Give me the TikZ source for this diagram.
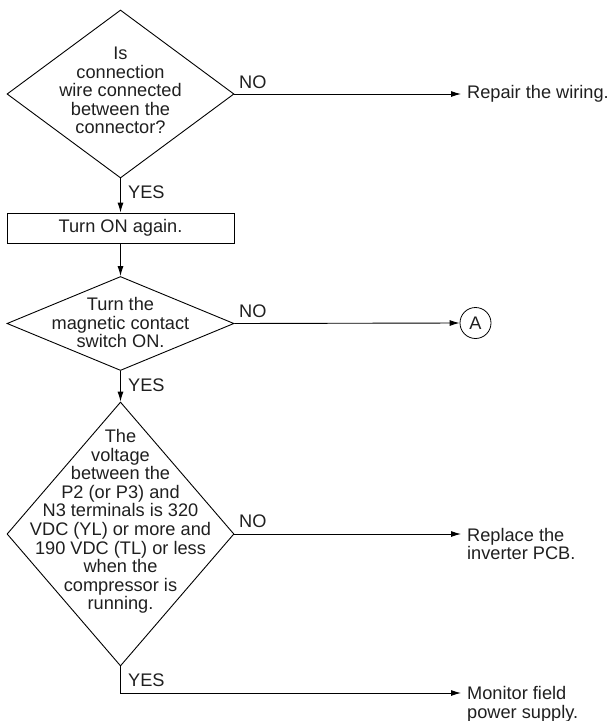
\documentclass[tikz,border=0pt]{standalone}
\usepackage{fontspec}
\setmainfont{Liberation Sans}
\usetikzlibrary{shapes.geometric,arrows.meta}
\begin{document}
\begin{tikzpicture}[x=1pt,y=-1pt,
  every node/.style={font=\fontsize{18.2}{18.6}\selectfont, text=black!88},
  line/.style={draw=black, line width=0.9pt},
  arr/.style={line, -{Latex[length=10pt,width=6pt]}},
  decision/.style={diamond, draw=black, line width=0.9pt, inner sep=0pt, minimum width=227pt},
  procbox/.style={rectangle, draw=black, line width=0.9pt, minimum width=227pt, minimum height=30pt, inner sep=0pt},
  dtext/.style={align=center, inner sep=0pt},
  rtext/.style={align=left, anchor=west, inner xsep=6pt, inner ysep=0pt},
  lbl/.style={inner sep=0pt, anchor=base west},
  conn/.style={circle, draw=black, line width=0.8pt, minimum size=31pt, inner sep=0pt}
]
\useasboundingbox (0,0) rectangle (612,721);

% decisions and box
\node[decision, minimum height=168pt] (d1) at (120.5,94) {};
\node[dtext] (t1) at (120.5,90.5) {Is\\connection\\wire connected\\between the\\connector?};
\node[procbox] (b1) at (120.5,228) {Turn ON again.};
\node[decision, minimum height=94pt] (d2) at (120.5,323.5) {};
\node[dtext] (t2) at (120.5,322.5) {Turn the\\magnetic contact\\switch ON.};
\node[decision, minimum height=264pt] (d3) at (120.5,534) {};
\node[dtext] (t3) at (120.5,521.5) {The\\voltage\\between the\\P2 (or P3) and\\N3 terminals is 320\\VDC (YL) or more and\\190 VDC (TL) or less\\when the\\compressor is\\running.};

% results
\node[rtext] (r1) at (461,94) {Repair the wiring.};
\node[conn] (A) at (475.5,323) {A};
\node[rtext] (r2) at (461,544) {Replace the\\inverter PCB.};
\node[rtext] (r3) at (461,704) {Monitor field\\power supply.};
\coordinate (c3) at (120.5,693);

% labels
\node[lbl] (no1) at (239,88) {NO};
\node[lbl] (no2) at (239,317) {NO};
\node[lbl] (no3) at (239,527) {NO};
\node[lbl] (yes1) at (128,198) {YES};
\node[lbl] (yes2) at (128,391) {YES};
\node[lbl] (yes3) at (128,686) {YES};

% connectors
\draw[arr] (d1.east) -- (r1.west);
\draw[arr] (d1.south) -- (b1.north);
\draw[arr] (b1.south) -- (d2.north);
\draw[arr] (d2.east) -- (A.west);
\draw[arr] (d2.south) -- (d3.north);
\draw[arr] (d3.east) -- (d3.east -| r2.west);
\draw[arr] (d3.south) -- (c3) -- (c3 -| r3.west);
\end{tikzpicture}
\end{document}
